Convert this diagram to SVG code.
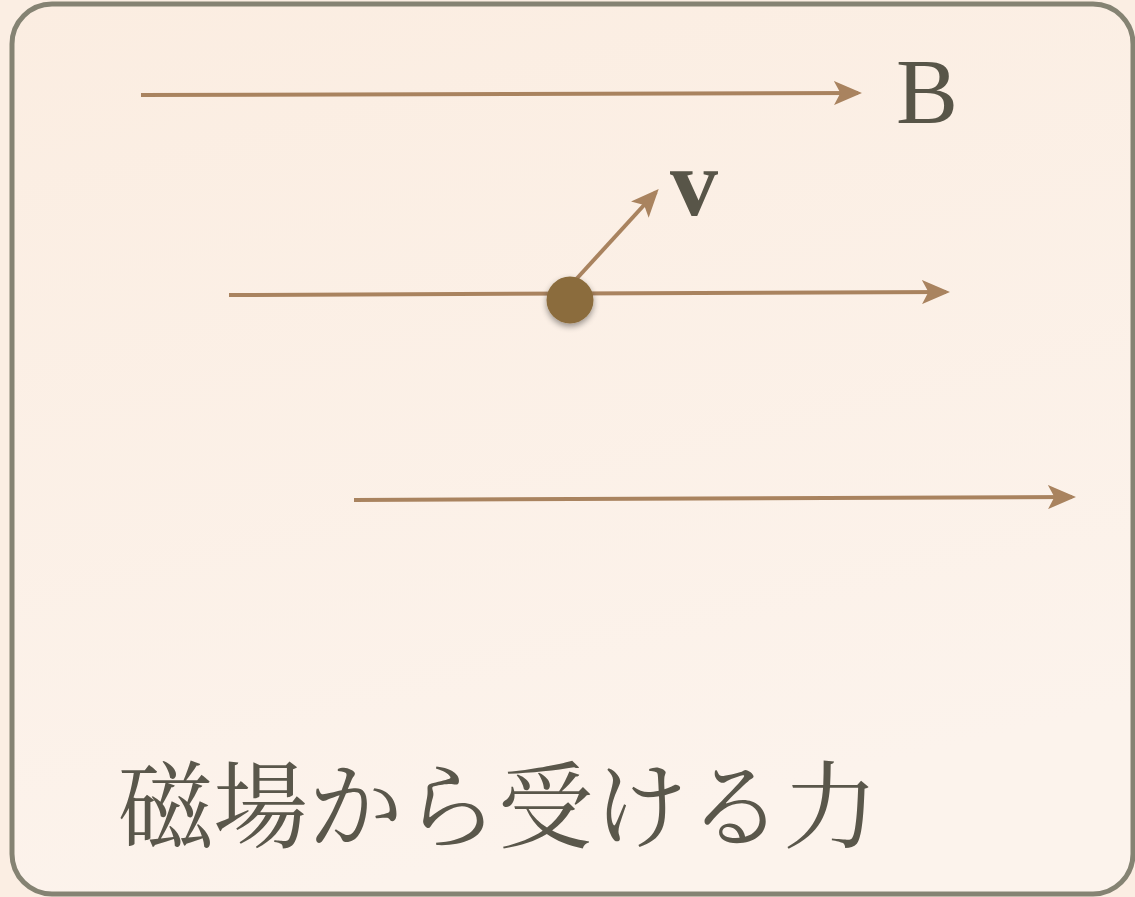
<svg xmlns="http://www.w3.org/2000/svg" width="1135" height="897" viewBox="0 0 1135 897">
<defs>
<linearGradient id="bg" x1="0" y1="0" x2="0.3" y2="1">
<stop offset="0" stop-color="#fbede1"/>
<stop offset="1" stop-color="#fcf3ec"/>
</linearGradient>
<marker id="ah" markerWidth="7" markerHeight="6" refX="6" refY="3" orient="auto" markerUnits="strokeWidth" viewBox="0 0 7 6">
<path d="M0,0 L7,3 L0,6 L1.6,3 Z" fill="#a9835f"/>
</marker>
<filter id="sh" x="-50%" y="-50%" width="200%" height="200%">
<feGaussianBlur in="SourceAlpha" stdDeviation="3"/>
<feOffset dx="0" dy="3"/>
<feComponentTransfer><feFuncA type="linear" slope="0.4"/></feComponentTransfer>
<feMerge><feMergeNode/><feMergeNode in="SourceGraphic"/></feMerge>
</filter>
</defs>
<style>
.ln{stroke:#a9835f;stroke-width:4;fill:none;marker-end:url(#ah)}
.lbl{font-family:"Liberation Serif",serif;fill:#585548}
</style>
<rect width="1135" height="897" fill="#fbeee3"/>
<rect id="frame" x="12" y="4" width="1121" height="890" rx="40" fill="url(#bg)" stroke="#858373" stroke-width="5"/>
<g id="connectors">
<line class="ln" x1="141" y1="95" x2="858" y2="93"/>
<line class="ln" x1="229" y1="295" x2="946" y2="292"/>
<line class="ln" x1="354" y1="500" x2="1072" y2="497"/>
<line class="ln" x1="570" y1="286" x2="656" y2="192"/>
</g>
<g id="charge">
<circle cx="570" cy="300" r="23.5" fill="#8b6c3c" filter="url(#sh)"/>
</g>
<g id="label-B"><text class="lbl" x="896" y="123" font-size="93">B</text></g>
<g id="label-v"><text class="lbl" x="670" y="215" font-size="96" font-weight="bold">v</text></g>
<g id="title"><text x="118" y="841" font-size="95" fill="#5a574b" font-family="Noto Serif CJK JP,Noto Sans CJK JP,sans-serif">磁場から受ける力</text></g>
</svg>
